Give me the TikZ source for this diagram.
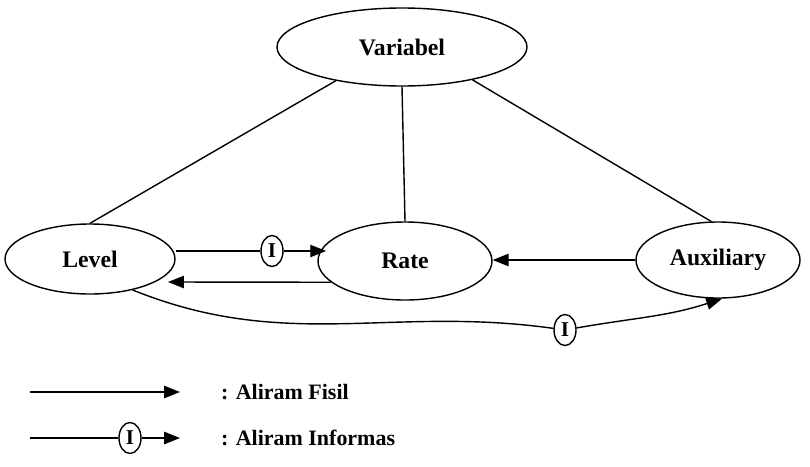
\documentclass[tikz,border=0pt]{standalone}
\usepackage{fontspec}
\setmainfont{Liberation Serif}
\usetikzlibrary{shapes.geometric,arrows.meta}

\begin{document}
\begin{tikzpicture}[
  box/.style={ellipse, draw, line width=0.8pt, inner sep=0pt, font=\fontsize{13.5}{15}\selectfont\bfseries},
  info/.style={ellipse, draw, line width=0.8pt, inner sep=0pt, minimum width=0.44cm, minimum height=0.62cm, font=\fontsize{12}{13}\selectfont\bfseries},
  link/.style={line width=0.8pt},
  fisil/.style={line width=0.8pt, -{Triangle[length=9pt,width=7pt]}},
  legend/.style={anchor=west, font=\fontsize{12.5}{14}\selectfont\bfseries}
]

\useasboundingbox (0,0) rectangle (16.2,-9.32);

\node[box, minimum width=5.0cm, minimum height=1.56cm] (var) at (8.04,-0.94) {Variabel};
\node[box, minimum width=3.4cm, minimum height=1.4cm] (level) at (1.8,-5.18) {Level};
\node[box, minimum width=3.48cm, minimum height=1.56cm] (rate) at (8.1,-5.22) {Rate};
\node[box, minimum width=3.28cm, minimum height=1.52cm] (aux) at (14.36,-5.2) {Auxiliary};

\draw[link] (var.207) -- (level.north);
\draw[link] (var.south) -- (rate.north);
\draw[link] (var.335) -- (aux.100);

% Level -> Rate (informasi)
\node[info] (i1) at (5.44,-5.02) {I};
\draw[link] (i1 -| level.east) -- (i1);
\draw[fisil] (i1) -- ([xshift=5pt]i1 -| rate.west);

% Rate -> Level
\coordinate (lvin) at (3.36,-5.64);
\draw[fisil] (rate.196) -- (lvin);

% Auxiliary -> Rate
\draw[fisil] (aux.west) -- (aux.west -| rate.east);

% Level -> Auxiliary (informasi)
\node[info] (i2) at (11.3,-6.6) {I};
\draw[link] (level.-36) to[out=-22,in=172] (i2);
\draw[fisil] (i2) to[out=10,in=-162] (aux.-84);

% legend
\coordinate (f1) at (0.6,-7.84);
\coordinate (f2) at (3.6,-7.84);
\draw[fisil] (f1) -- (f2);
\node[legend] (l1) at (4.3,-7.84) {: Aliram Fisil};

\coordinate (g1) at (0.6,-8.76);
\node[info] (i3) at (2.6,-8.76) {I};
\coordinate (g2) at (3.6,-8.76);
\draw[link] (g1) -- (i3);
\draw[fisil] (i3) -- (g2);
\node[legend] (l2) at (4.3,-8.76) {: Aliram Informas};

\end{tikzpicture}
\end{document}
